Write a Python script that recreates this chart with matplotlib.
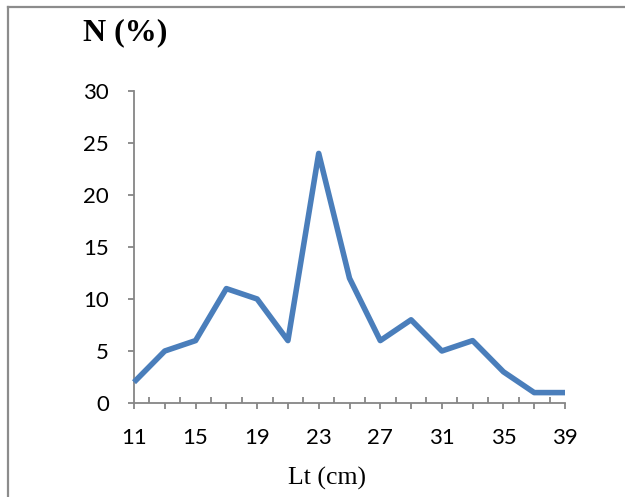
import matplotlib
matplotlib.use("Agg")
import matplotlib.pyplot as plt
from matplotlib.lines import Line2D

# Data
lengths = [11, 13, 15, 17, 19, 21, 23, 25, 27, 29, 31, 33, 35, 37, 39]
percent = [2, 5, 6, 11, 10, 6, 24, 12, 6, 8, 5, 6, 3, 1, 1]
tick_labels = ["11", "", "15", "", "19", "", "23", "", "27", "", "31", "", "35", "", "39"]
minor_pos = [12, 14, 16, 18, 20, 22, 24, 26, 28, 30, 32, 34, 36, 38]
y_ticks = [0, 5, 10, 15, 20, 25, 30]

W, H = 625, 497
fig = plt.figure(figsize=(W / 100, H / 100), dpi=100)
ax = fig.add_axes([134 / W, 1 - 403 / H, (565 - 134) / W, (403 - 91) / H])

ax.plot(lengths, percent, color="#4a7ebb", lw=4.0, solid_joinstyle="round",
        solid_capstyle="butt", clip_on=False, zorder=5)

ax.set_xlim(11, 39)
ax.set_ylim(0, 30)
gray = "#868686"
for s in ["top", "right"]:
    ax.spines[s].set_visible(False)
for s in ["left", "bottom"]:
    ax.spines[s].set_color(gray)
    ax.spines[s].set_linewidth(1.3)

ax.set_xticks(lengths)
ax.set_xticklabels(tick_labels)
ax.set_xticks(minor_pos, minor=True)
ax.set_yticks(y_ticks)
ax.set_yticklabels([str(v) for v in y_ticks])

ax.tick_params(axis="x", which="major", direction="out", length=4, width=1.3, color=gray,
               pad=14, labelsize=16, labelcolor="black")
ax.tick_params(axis="x", which="minor", direction="in", length=4, width=1.3, color=gray)
ax.tick_params(axis="y", which="major", direction="out", length=4.5, width=1.3, color=gray,
               pad=13.5, labelsize=16, labelcolor="black")
for lab in ax.get_xticklabels() + ax.get_yticklabels():
    lab.set_fontfamily("Lato")

fig.text(125 / W, 1 - 33 / H, "N (%)", ha="center", va="center", fontsize=23,
         fontweight="bold", family="Liberation Serif")
fig.text(327 / W, 1 - 478 / H, "Lt (cm)", ha="center", va="center", fontsize=18.5,
         family="Liberation Serif")

# outer frame (left and top edges)
fig.add_artist(Line2D([8 / W, 8 / W], [0, 1 - 7 / H], transform=fig.transFigure, color="#8c8c8c", lw=1.6))
fig.add_artist(Line2D([8 / W, 1], [1 - 7 / H, 1 - 7 / H], transform=fig.transFigure, color="#8c8c8c", lw=1.6))

fig.savefig("out.png", dpi=100)
